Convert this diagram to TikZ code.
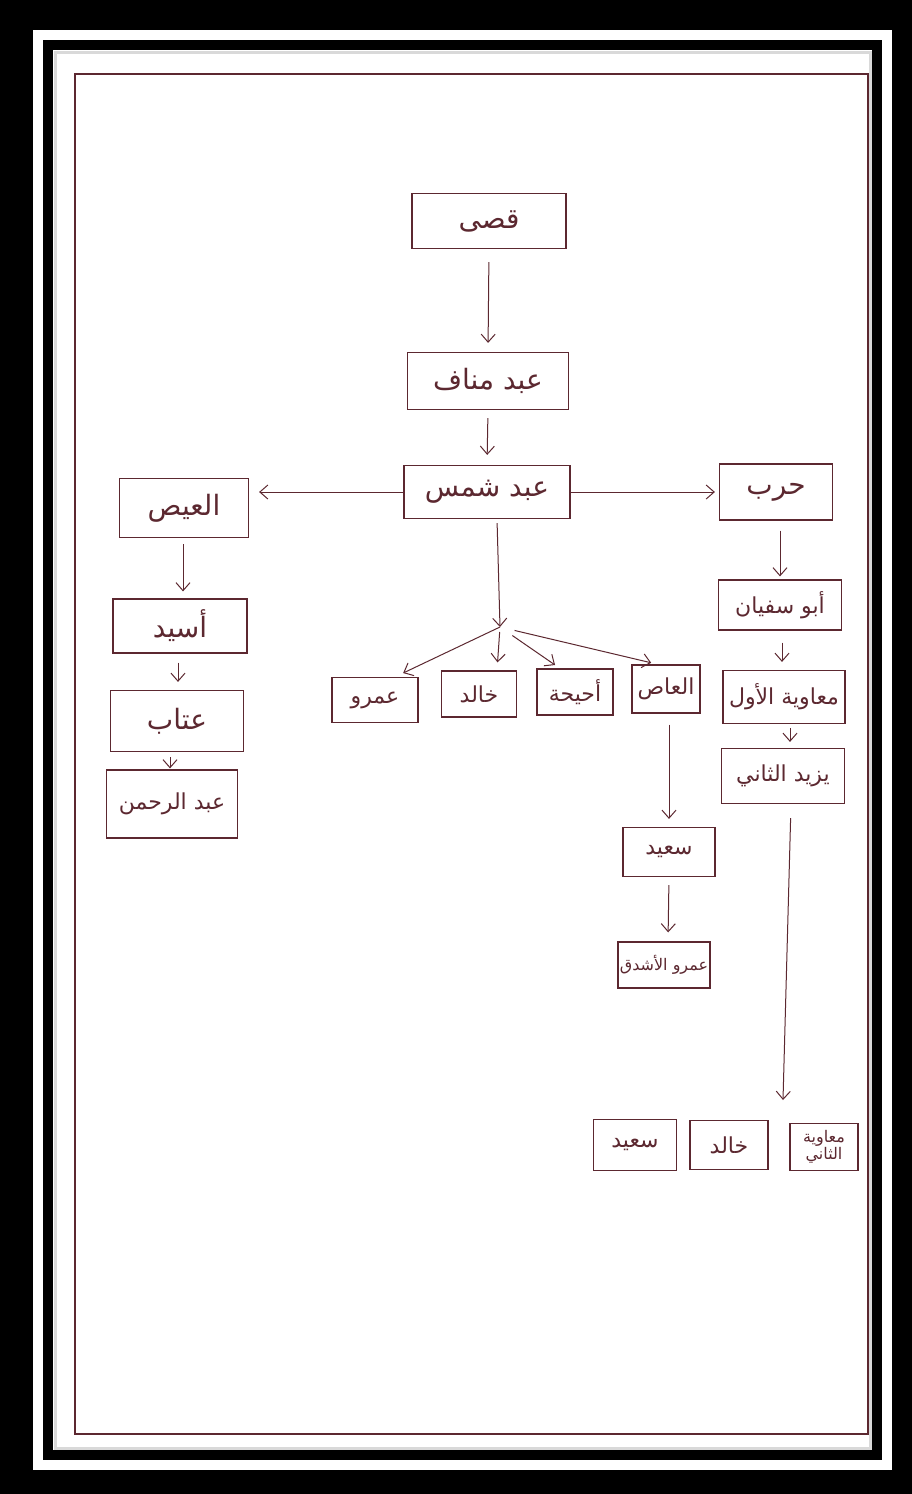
\documentclass[tikz,border=0pt]{standalone}
\usepackage{fontspec}
\usetikzlibrary{positioning,arrows.meta}
\TeXXeTstate=1
\newfontfamily\arabicfont[Script=Arabic]{DejaVu Sans}
\newcommand{\arname}[1]{{\arabicfont\beginR #1\endR}}
\definecolor{inkbrown}{HTML}{5C2830}

\begin{document}
\begin{tikzpicture}[x=1pt, y=-1pt,
    person/.style={draw=inkbrown, line width=1.2pt, text=inkbrown, inner sep=0pt,
                   font=\fontsize{28}{32}\selectfont},
    small/.style={font=\fontsize{22}{26}\selectfont},
    link/.style={draw=inkbrown, line width=1pt, -{Straight Barb[length=8pt,width=14pt]}}]
  \useasboundingbox (0,0) rectangle (912,1494);
  % photo frame
  \fill[black] (0,0) rectangle (912,1494);
  \fill[white] (33,30) rectangle (892,1470);
  \fill[black] (43,40) rectangle (882,1460);
  \fill[white] (53,50) rectangle (872,1450);
  \draw[black!15, line width=3pt] (55,52) rectangle (870,1448);
  \draw[inkbrown, line width=1.3pt] (75,74) rectangle (868,1434);

  % top of the tree
  \node[person, minimum width=154pt, minimum height=55pt] (qusayy) at (489,221) {\arname{قصى}};
  \node[person, minimum width=161pt, minimum height=57pt] (abdmanaf) at (488,381) {\arname{عبد مناف}};
  \node[person, minimum width=166pt, minimum height=53pt] (abdshams) at (487,492) {\arname{عبد شمس}};
  \node[person, minimum width=113pt, minimum height=56pt] (harb) at (776,492) {\arname{حرب}};

  % left branch
  \node[person, minimum width=129pt, minimum height=59pt] (ays) at (184,508) {\arname{العيص}};
  \node[person, minimum width=134pt, minimum height=54pt] (usayd) at (180,626) {\arname{أسيد}};
  \node[person, minimum width=133pt, minimum height=61pt] (attab) at (177,721) {\arname{عتاب}};
  \node[person, small, minimum width=131pt, minimum height=68pt] (abdrahman) at (172,804) {\arname{عبد الرحمن}};

  % middle row
  \node[person, small, minimum width=86pt, minimum height=45pt] (amr) at (375,700) {\arname{عمرو}};
  \node[person, small, minimum width=75pt, minimum height=46pt] (khalid) at (479,694) {\arname{خالد}};
  \node[person, small, minimum width=76pt, minimum height=46pt] (uhayha) at (575,692) {\arname{أحيحة}};
  \node[person, small, minimum width=68pt, minimum height=48pt] (as) at (666,689) {\arname{العاص}};
  \node[person, small, minimum width=92pt, minimum height=49pt] (said) at (669,852) {\arname{سعيد}};
  \node[person, minimum width=92pt, minimum height=46pt, font=\fontsize{16}{18}\selectfont] (amrashdaq) at (664,965) {\arname{عمرو الأشدق}};

  % right branch
  \node[person, small, minimum width=123pt, minimum height=50pt] (abusufyan) at (780,605) {\arname{أبو سفيان}};
  \node[person, small, minimum width=122pt, minimum height=53pt] (muawiya1) at (784,697) {\arname{معاوية الأول}};
  \node[person, small, minimum width=123pt, minimum height=55pt] (yazid) at (783,776) {\arname{يزيد الثاني}};
  \node[person, small, minimum width=83pt, minimum height=51pt] (said2) at (635,1145) {\arname{سعيد}};
  \node[person, small, minimum width=78pt, minimum height=49pt] (khalid2) at (729,1145) {\arname{خالد}};
  \node[person, minimum width=68pt, minimum height=47pt, align=center,
        font=\fontsize{16}{16}\selectfont] (muawiya2) at (824,1147) {\arname{معاوية}\\\arname{الثاني}};

  \coordinate (hub) at (500,627);
  \coordinate (endyazid) at (783,1100);

  % connectors
  \draw[link, shorten <=13pt, shorten >=9pt] (qusayy.south) -- (abdmanaf.north);
  \draw[link, shorten <=8pt, shorten >=10pt] (abdmanaf.south) -- (abdshams.north);
  \draw[link, shorten >=4pt] (abdshams.east) -- (harb.west);
  \draw[link, shorten >=10pt] (abdshams.west) -- (ays.east |- abdshams.west);
  \draw[link, shorten <=4pt] ([xshift=10pt]abdshams.south) -- (hub);
  \draw[link, shorten >=9pt] (hub) -- ([xshift=20pt]amr.north);
  \draw[link, shorten <=5pt, shorten >=8pt] (hub) -- ([xshift=18pt]khalid.north);
  \draw[link, shorten <=15pt, shorten >=6pt] (hub) -- ([xshift=-15pt]uhayha.north);
  \draw[link, shorten <=15pt, shorten >=7pt] (hub) -- ([xshift=-8pt]as.north);
  \draw[link, shorten <=11pt, shorten >=8pt] ([xshift=3pt]as.south) -- (said.north);
  \draw[link, shorten <=8pt, shorten >=9pt] (said.south) -- ([xshift=4pt]amrashdaq.north);
  \draw[link, shorten <=10pt, shorten >=3pt] ([xshift=4pt]harb.south) -- (abusufyan.north);
  \draw[link, shorten <=12pt, shorten >=8pt] ([xshift=2pt]abusufyan.south) -- ([xshift=-2pt]muawiya1.north);
  \draw[link, shorten <=4pt, shorten >=6pt] ([xshift=6pt]muawiya1.south) -- ([xshift=7pt]yazid.north);
  \draw[link, shorten <=14pt] ([xshift=8pt]yazid.south) -- (endyazid);
  \draw[link, shorten <=6pt, shorten >=7pt] ([xshift=-1pt]ays.south) -- ([xshift=3pt]usayd.north);
  \draw[link, shorten <=9pt, shorten >=8pt] ([xshift=-2pt]usayd.south) -- ([xshift=1pt]attab.north);
  \draw[link, shorten <=5pt, shorten >=1pt] ([xshift=-7pt]attab.south) -- ([xshift=-2pt]abdrahman.north);
\end{tikzpicture}
\end{document}
